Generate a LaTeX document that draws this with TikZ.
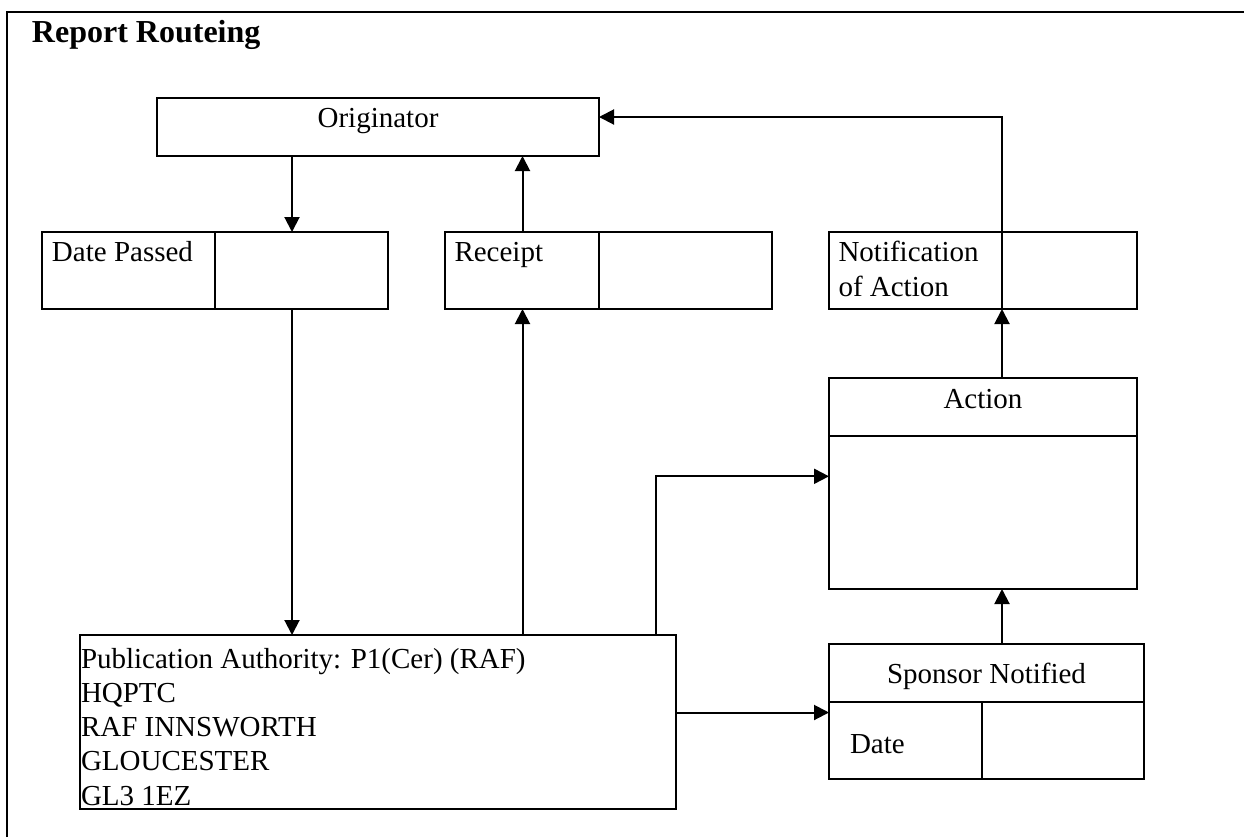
\documentclass[tikz,border=0pt]{standalone}
\usepackage{fontspec}
\setmainfont{Liberation Serif}
\usetikzlibrary{arrows.meta,calc}
\begin{document}
\begin{tikzpicture}[x=0.5pt,y=-0.5pt,
  line width=1pt,
  boxnode/.style={draw,line width=1pt,inner sep=0pt,outer sep=0pt,anchor=north west},
  txt/.style={inner sep=0pt,outer sep=0pt,font={\fontsize{14.5}{17.1}\selectfont}},
  arr/.style={-{Triangle[length=7.5pt,width=7.5pt]},line width=1pt},
  ln/.style={line width=1pt}]
\useasboundingbox (0,0) rectangle (1244,837);
% frame
\draw[ln] (7,837) -- (7,12) -- (1244,12);
\node[inner sep=0pt,anchor=base west,font={\fontsize{16}{19}\selectfont\bfseries}] (title) at (31,42.7) {Report Routeing};

% boxes
\node[boxnode,minimum width=221pt,minimum height=29pt] (orig) at (157,98) {};
\node[boxnode,minimum width=173pt,minimum height=38.5pt] (datep) at (42,232) {};
\node[boxnode,minimum width=163.5pt,minimum height=38.5pt] (receipt) at (445,232) {};
\node[boxnode,minimum width=154pt,minimum height=38.5pt] (notif) at (829,232) {};
\node[boxnode,minimum width=154pt,minimum height=105.5pt] (action) at (829,378) {};
\node[boxnode,minimum width=298pt,minimum height=87pt] (pub) at (80,635) {};
\node[boxnode,minimum width=157.5pt,minimum height=67.5pt] (sponsor) at (829,644) {};

% dividers
\coordinate (dpdiv) at (215,0);
\coordinate (rcdiv) at (599,0);
\coordinate (ntdiv) at (1002,0);
\coordinate (acdiv) at (0,435.7);
\coordinate (spdivh) at (0,701.7);
\coordinate (spdivv) at (982,0);
\draw[ln] (datep.north -| dpdiv) -- (datep.south -| dpdiv);
\draw[ln] (receipt.north -| rcdiv) -- (receipt.south -| rcdiv);
\draw[ln] (notif.north -| ntdiv) -- (notif.south -| ntdiv);
\draw[ln] (action.west |- acdiv) -- (action.east |- acdiv);
\draw[ln] (sponsor.west |- spdivh) -- (sponsor.east |- spdivh);
\draw[ln] (spdivv |- spdivh) -- (sponsor.south -| spdivv);

% texts
\node[txt,anchor=base] (torig) at (378,127.7) {Originator};
\node[txt,anchor=base west] (tdatep) at (52,261.7) {Date Passed};
\node[txt,anchor=base west] (treceipt) at (454.5,261.7) {Receipt};
\node[txt,anchor=base west,align=left] (tnotif) at (838.5,296) {Notification\\of Action};
\node[txt,anchor=base] (taction) at (983,408.3) {Action};
\node[txt,anchor=base west,align=left] (tpub) at (81,805) {Publication Authority: P1(Cer) (RAF)\\HQPTC\\RAF INNSWORTH\\GLOUCESTER\\GL3 1EZ};
\node[txt,anchor=base] (tsponsor) at (986.5,683.3) {Sponsor Notified};
\node[txt,anchor=base west] (tdate) at (850,753.3) {Date};

% connector columns
\coordinate (c1) at (292,0);
\coordinate (c2) at (522.5,0);
\coordinate (c3) at (656,0);
\coordinate (c4) at (1002,0);
\coordinate (rowA) at (0,476.3);
\coordinate (rowS) at (0,712.5);
\coordinate (rowO) at (0,117);

\draw[arr] (orig.south -| c1) -- (datep.north -| c1);
\draw[arr] (datep.south -| c1) -- (pub.north -| c1);
\draw[arr] (pub.north -| c2) -- (receipt.south -| c2);
\draw[arr] (receipt.north -| c2) -- (orig.south -| c2);
\draw[arr] (pub.north -| c3) -- (c3 |- rowA) -- (action.west |- rowA);
\draw[arr] (pub.east |- rowS) -- (sponsor.west |- rowS);
\draw[arr] (sponsor.north -| c4) -- (action.south -| c4);
\draw[arr] (action.north -| c4) -- (notif.south -| c4);
\draw[arr] (notif.north -| c4) -- (c4 |- rowO) -- (orig.east |- rowO);
\end{tikzpicture}
\end{document}
